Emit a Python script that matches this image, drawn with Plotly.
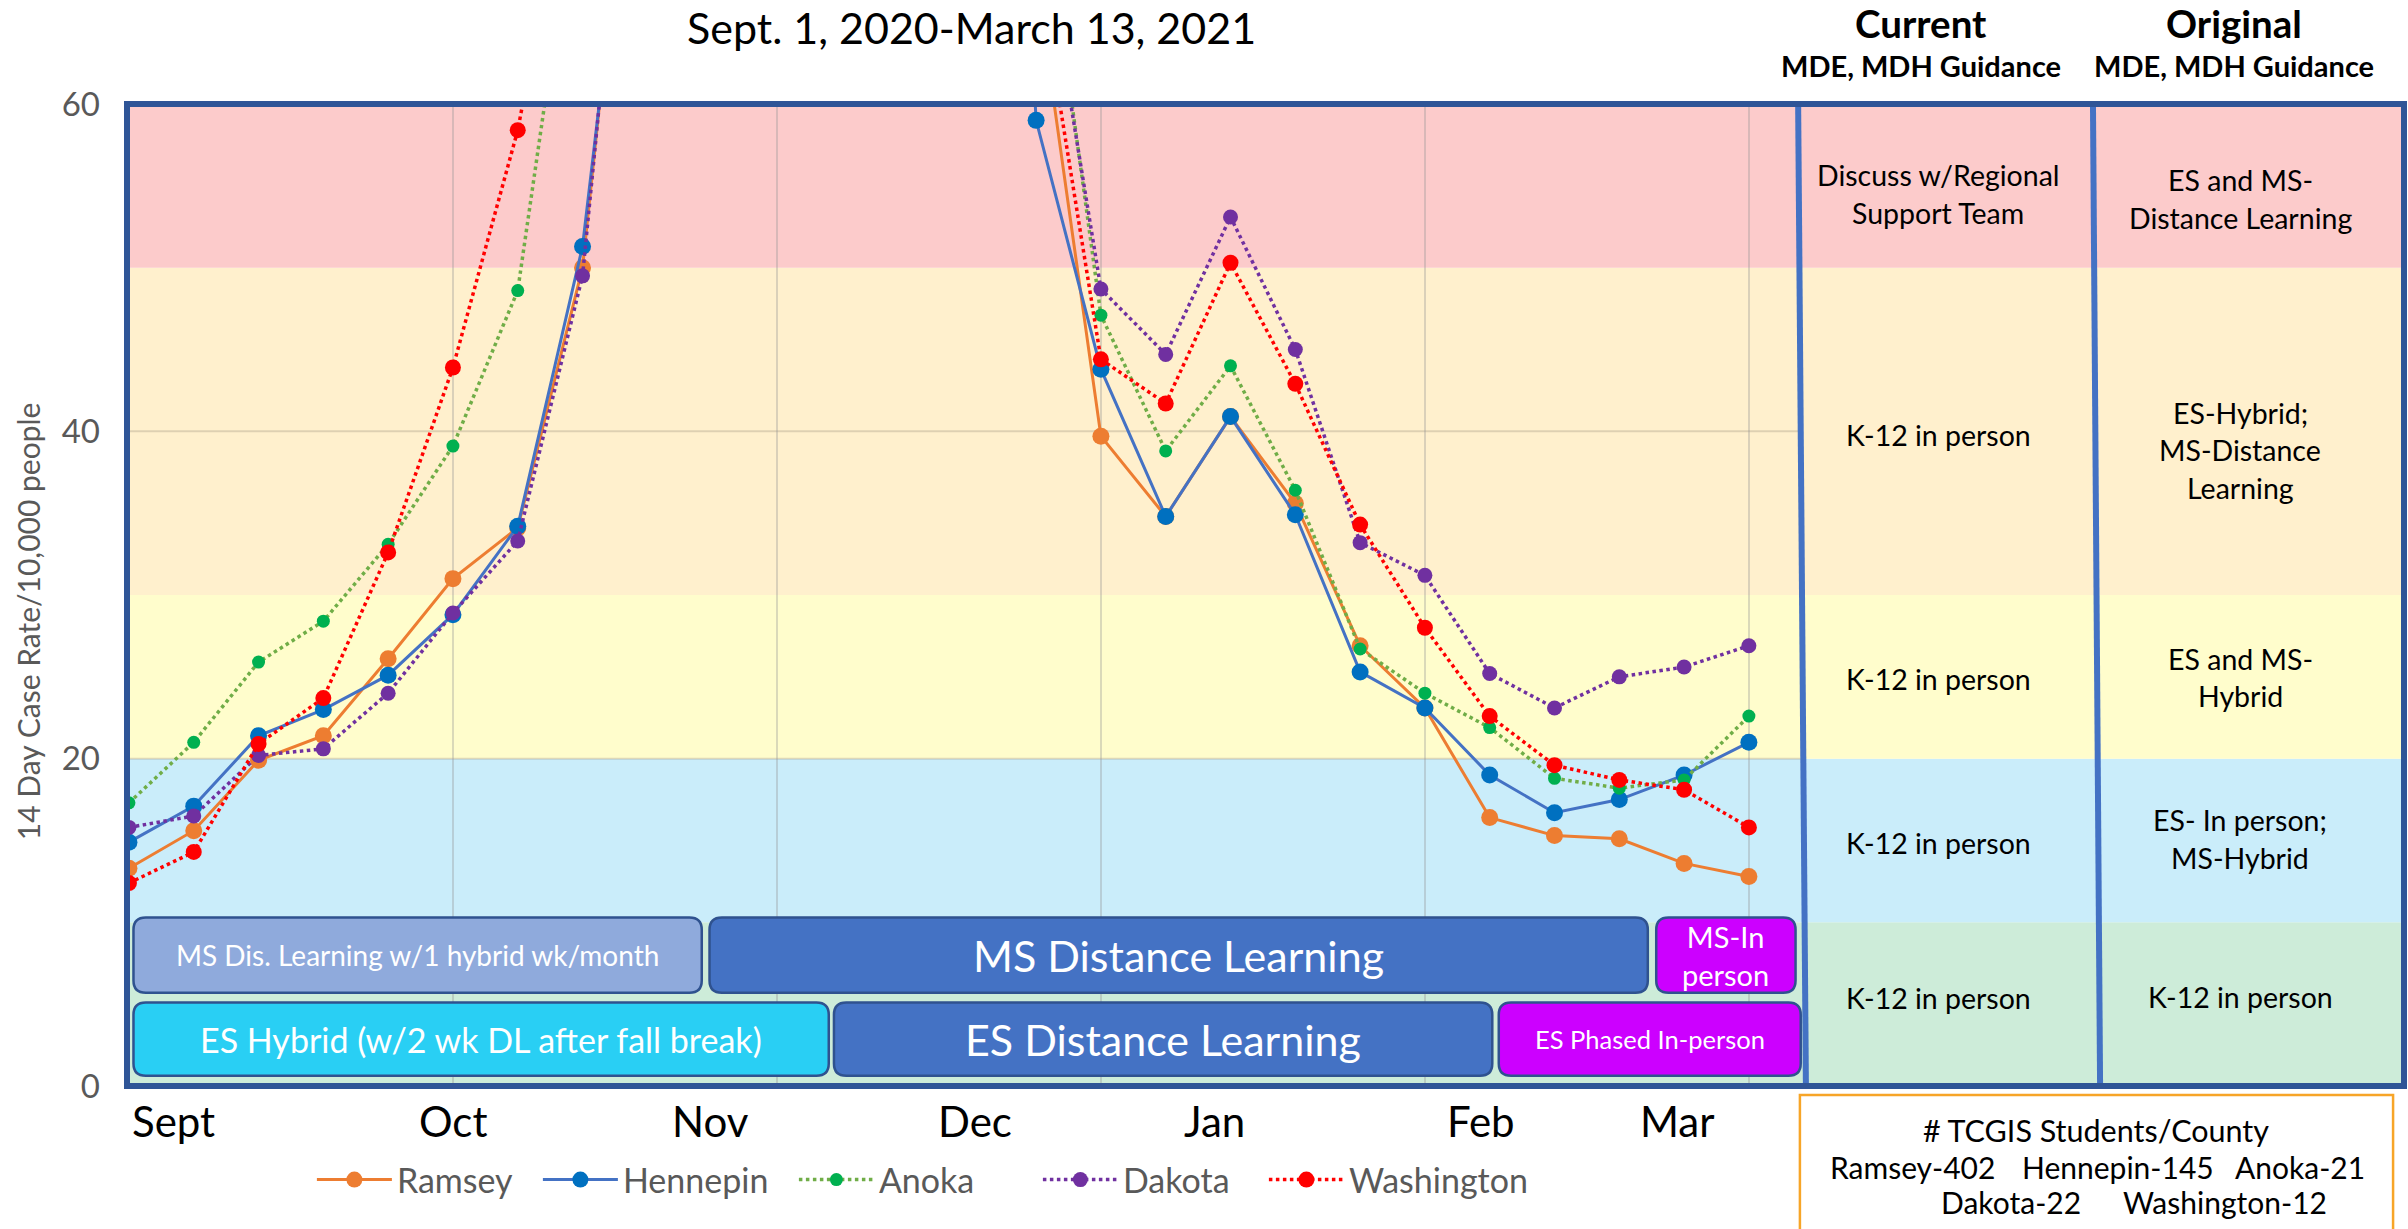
import plotly.graph_objects as go

# ---------------- data ----------------
week_index = list(range(26))
ramsey = [13.3, 15.6, 19.9, 21.4, 26.1, 31.0, 34.1, 50.0, 88, 100, 112, 122, 118, 96, 68,
          39.7, 34.8, 40.9, 35.6, 26.9, 23.1, 16.4, 15.3, 15.1, 13.6, 12.8]
hennepin = [14.9, 17.1, 21.4, 23.0, 25.1, 28.8, 34.2, 51.3, 85, 98, 110, 120, 125, 130, 59.0,
            43.8, 34.8, 40.9, 34.9, 25.3, 23.1, 19.0, 16.7, 17.5, 19.0, 21.0]
anoka = [17.3, 21.0, 25.9, 28.4, 33.1, 39.1, 48.6, 76, 95, 105, 115, 125, 110, 95, 76,
         47.1, 38.8, 44.0, 36.4, 26.7, 24.0, 21.9, 18.8, 18.2, 18.7, 22.6]
dakota = [15.8, 16.5, 20.2, 20.6, 24.0, 28.9, 33.3, 49.5, 90, 100, 110, 120, 112, 95, 73,
          48.7, 44.7, 53.1, 45.0, 33.2, 31.2, 25.2, 23.1, 25.0, 25.6, 26.9]
washington = [12.4, 14.3, 20.9, 23.7, 32.6, 43.9, 58.4, 80, 100, 110, 120, 128, 115, 98, 69,
              44.4, 41.7, 50.3, 42.9, 34.3, 28.0, 22.6, 19.6, 18.7, 18.1, 15.8]

month_labels = ["Sept", "Oct", "Nov", "Dec", "Jan", "Feb", "Mar"]
month_pos = [0.69, 5.0, 8.98, 13.05, 16.75, 20.87, 23.9]

y_ticks = [0, 20, 40, 60]

# threshold bands (low, high, colour)
band_low = [0, 10, 20, 30, 50]
band_high = [10, 20, 30, 50, 60]
band_colors = ["rgb(205,236,217)", "rgb(202,237,250)", "rgb(255,253,204)",
               "rgb(255,240,205)", "rgb(252,203,203)"]

# schedule boxes
box_labels = ["MS Dis. Learning w/1 hybrid wk/month", "MS Distance Learning", "MS-In<br>person",
              "ES Hybrid (w/2 wk DL after fall break)", "ES Distance Learning", "ES Phased In-person"]
box_start = [0.07, 8.96, 23.57, 0.07, 10.88, 21.14]
box_end = [8.84, 23.44, 25.72, 10.80, 21.04, 25.80]
box_low = [5.7, 5.7, 5.7, 0.62, 0.62, 0.62]
box_high = [10.3, 10.3, 10.3, 5.1, 5.1, 5.1]
box_fill = ["#8faadc", "#4472c4", "#cc00ff", "#29cff4", "#4472c4", "#cc00ff"]
box_font = [28, 43, 29, 34, 43, 25.5]

# guidance table
current_guidance = ["Discuss w/Regional<br>Support Team", "K-12 in person", "K-12 in person",
                    "K-12 in person", "K-12 in person"]
original_guidance = ["ES and MS-<br>Distance Learning", "ES-Hybrid;<br>MS-Distance<br>Learning",
                     "ES and MS-<br>Hybrid", "ES- In person;<br>MS-Hybrid", "K-12 in person"]
current_y = [54.5, 39.8, 24.86, 14.84, 5.35]
original_y = [54.2, 38.85, 24.95, 15.1, 5.45]

# TCGIS students per county
county_students = ["Ramsey-402", "Hennepin-145", "Anoka-21", "Dakota-22", "Washington-12"]
county_x = [27.52, 30.69, 33.5, 29.04, 32.35]
county_y = [-4.93, -4.93, -4.93, -7.06, -7.06]

FONT = "Lato"
GRAY = "#595959"
Y_MAX = 60.0

fig = go.Figure()

series = [
    ("Ramsey", ramsey, "#ed7d31", "#ed7d31", "solid", 3, 17, 136),
    ("Hennepin", hennepin, "#4472c4", "#0070c0", "solid", 3, 17, 166),
    ("Anoka", anoka, "#70ad47", "#00b050", "dot", 3.5, 13, 154),
    ("Dakota", dakota, "#7030a0", "#7030a0", "dot", 3.5, 15, 136),
    ("Washington", washington, "#ff0000", "#ff0000", "dot", 3.5, 16, 180),
]
for name, vals, lc, mc, dash, lw, ms, lwid in series:
    fig.add_trace(go.Scatter(
        x=week_index, y=vals, name=name, mode="lines+markers",
        line=dict(color=lc, width=lw, dash=dash),
        marker=dict(color=mc, size=ms), legendwidth=lwid,
    ))

shapes = []
for lo, hi, c in zip(band_low, band_high, band_colors):
    shapes.append(dict(type="rect", xref="x", yref="y", x0=-0.03, x1=35.11, y0=lo, y1=hi,
                       fillcolor=c, line=dict(width=0), layer="below"))
for yv in [20, 40]:
    shapes.append(dict(type="line", xref="x", yref="y", x0=-0.03, x1=25.8, y0=yv, y1=yv,
                       line=dict(color="rgba(160,150,130,0.35)", width=2), layer="below"))


def rounded(x0, x1, y0, y1, rx=0.19, ry=0.75):
    return (f"M {x0+rx},{y0} L {x1-rx},{y0} Q {x1},{y0} {x1},{y0+ry} "
            f"L {x1},{y1-ry} Q {x1},{y1} {x1-rx},{y1} L {x0+rx},{y1} "
            f"Q {x0},{y1} {x0},{y1-ry} L {x0},{y0+ry} Q {x0},{y0} {x0+rx},{y0} Z")


annotations = []


def note(x, y, text, size, color="black", xref="x", yref="y", **kw):
    d = dict(x=x, y=y, xref=xref, yref=yref, text=text, showarrow=False,
             xanchor="center", yanchor="middle",
             font=dict(family=FONT, size=size, color=color))
    d.update(kw)
    annotations.append(d)


for lab, xs, xe, lo, hi, fc, fs in zip(box_labels, box_start, box_end, box_low, box_high,
                                       box_fill, box_font):
    shapes.append(dict(type="path", xref="x", yref="y", path=rounded(xs, xe, lo, hi),
                       fillcolor=fc, line=dict(color="#2f528f", width=2.5), layer="above"))
    note((xs + xe) / 2, (lo + hi) / 2, lab, fs, "white")

shapes.append(dict(type="line", xref="x", yref="y", x0=25.76, x1=25.88, y0=60, y1=-0.1,
                   line=dict(color="#4472c4", width=6), layer="above"))
shapes.append(dict(type="line", xref="x", yref="y", x0=30.31, x1=30.42, y0=60, y1=-0.1,
                   line=dict(color="#4472c4", width=6), layer="above"))
shapes.append(dict(type="rect", xref="paper", yref="paper", x0=0, x1=1, y0=0, y1=1,
                   line=dict(color="rgb(47,85,151)", width=6), layer="above"))
shapes.append(dict(type="rect", xref="paper", yref="paper", x0=0.7347, x1=0.9952,
                   y0=-0.0092, y1=-0.16, line=dict(color="rgb(247,165,40)", width=2.5),
                   fillcolor="white", layer="above"))

# month labels below the axis
for lab, xp in zip(month_labels, month_pos):
    note(xp, -2.14 / Y_MAX, lab, 42, yref="paper")


def multiline(text, x, y, size, spacing):
    lines = text.split("<br>")
    n = len(lines)
    for i, ln in enumerate(lines):
        note(x, y, ln, size, yshift=((n - 1) / 2 - i) * spacing)


for txt, yv in zip(current_guidance, current_y):
    multiline(txt, 27.92, yv, 28.5, 37.5)
for txt, yv in zip(original_guidance, original_y):
    multiline(txt, 32.58, yv, 28.5, 37.5)

note(30.36, -2.7 / Y_MAX, "# TCGIS Students/County", 30.5, yref="paper")
for lab, xs, ys in zip(county_students, county_x, county_y):
    note(xs, ys / Y_MAX, lab, 30, yref="paper")

note(13.0, 64.65 / Y_MAX, "Sept. 1, 2020-March 13, 2021", 43, yref="paper")
note(27.65, 64.94 / Y_MAX, "<b>Current</b>", 38.5, yref="paper")
note(27.65, 62.37 / Y_MAX, "<b>MDE, MDH Guidance</b>", 29, yref="paper")
note(32.48, 64.94 / Y_MAX, "<b>Original</b>", 38.5, yref="paper")
note(32.48, 62.37 / Y_MAX, "<b>MDE, MDH Guidance</b>", 29, yref="paper")
note(-0.0435, 28.4 / Y_MAX, "14 Day Case Rate/10,000 people", 30, GRAY,
     xref="paper", yref="paper", textangle=-90)

fig.update_layout(
    width=2408, height=1229,
    margin=dict(l=127, r=4, t=104, b=143),
    paper_bgcolor="white", plot_bgcolor="white",
    shapes=shapes, annotations=annotations,
    font=dict(family=FONT, color=GRAY),
    hovermode=False,
    legend=dict(orientation="h", x=0.0812, xanchor="left", y=-0.0957, yanchor="middle",
                itemwidth=75, entrywidthmode="pixels",
                font=dict(family=FONT, size=34, color=GRAY), bgcolor="rgba(0,0,0,0)"),
    xaxis=dict(range=[-0.03, 35.11], showgrid=False, zeroline=False, showticklabels=False,
               ticks="", showline=False,
               minor=dict(tickmode="array", tickvals=[5, 10, 15, 20, 25], showgrid=True,
                          gridcolor="rgba(150,150,150,0.35)", gridwidth=2, ticks="")),
    yaxis=dict(range=[0, Y_MAX], tickvals=y_ticks, showgrid=False, zeroline=False, ticks="",
               tickfont=dict(family=FONT, size=33, color=GRAY), ticklabelstandoff=26,
               showline=False),
)

# remove the default 8px page margin so the figure fills the window exactly
fig.write_html("out.html", config={"displayModeBar": False},
               post_script="document.body.style.margin='0';")
